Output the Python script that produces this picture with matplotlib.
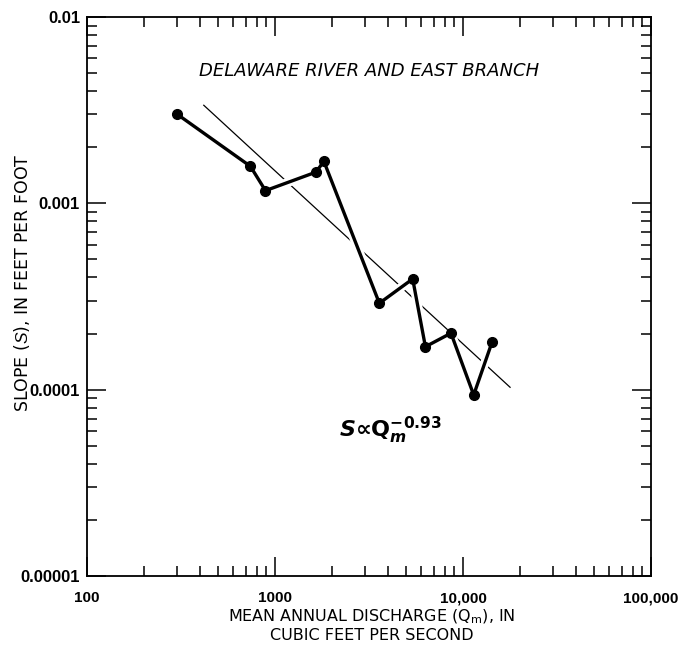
import matplotlib
matplotlib.use("Agg")
import matplotlib.pyplot as plt
from matplotlib.ticker import LogLocator, FixedLocator, FixedFormatter, NullFormatter

plt.rcParams['font.family'] = ['Liberation Sans', 'DejaVu Sans']
plt.rcParams['mathtext.fontset'] = 'custom'
plt.rcParams['mathtext.rm'] = 'Liberation Sans'
plt.rcParams['mathtext.it'] = 'Liberation Sans:italic'
plt.rcParams['mathtext.bf'] = 'Liberation Sans:bold'
plt.rcParams['mathtext.bfit'] = 'Liberation Sans:italic:bold'

# Data: mean annual discharge (cfs) and slope (ft/ft)
discharge = [300, 740, 890, 1650, 1820, 3590, 5400, 6310, 8630, 11400, 14300]
slope = [0.00302, 0.00158, 0.00117, 0.00147, 0.00168, 0.000291, 0.000393,
         0.000170, 0.000201, 0.0000937, 0.000181]

# Fitted power-law line endpoints (S ~ Q^-0.93)
fit_q = [418, 17800]
fit_s = [0.00336, 0.000103]

x_ticks = [100, 1000, 10000, 100000]
x_labels = ["100", "1000", "10,000", "100,000"]
y_ticks = [0.00001, 0.0001, 0.001, 0.01]
y_labels = ["0.00001", "0.0001", "0.001", "0.01"]

W, H = 679, 645
fig = plt.figure(figsize=(W / 100, H / 100), dpi=100)
left, right, top, bottom = 87, 651, 17, 576
ax = fig.add_axes([left / W, 1 - bottom / H, (right - left) / W, (bottom - top) / H])

ax.set_xscale('log')
ax.set_yscale('log')
ax.set_xlim(100, 100000)
ax.set_ylim(0.00001, 0.01)

# fit line (thin)
ax.plot(fit_q, fit_s, color='black', lw=0.9, zorder=2)
# white halo under the data line so the fit line is broken at crossings
ax.plot(discharge, slope, color='white', lw=6.5, solid_joinstyle='round',
        solid_capstyle='round', zorder=2.5)
# data line (thick) with dots
ax.plot(discharge, slope, color='black', lw=2.4, marker='o', ms=7,
        solid_joinstyle='round', zorder=3)

ax.xaxis.set_major_locator(FixedLocator(x_ticks))
ax.xaxis.set_major_formatter(FixedFormatter(x_labels))
ax.yaxis.set_major_locator(FixedLocator(y_ticks))
ax.yaxis.set_major_formatter(FixedFormatter(y_labels))
ax.xaxis.set_minor_locator(LogLocator(base=10, subs=range(2, 10), numticks=20))
ax.yaxis.set_minor_locator(LogLocator(base=10, subs=range(2, 10), numticks=20))
ax.xaxis.set_minor_formatter(NullFormatter())
ax.yaxis.set_minor_formatter(NullFormatter())

ax.tick_params(which='both', direction='in', top=True, right=True, width=1.1, color='black')
ax.tick_params(which='major', length=13.5)
ax.tick_params(which='minor', length=7.5)
ax.tick_params(axis='x', which='major', pad=11, labelsize=11)
ax.tick_params(axis='y', which='major', pad=5, labelsize=12)
for lab in ax.get_xticklabels() + ax.get_yticklabels():
    lab.set_fontweight('bold')
for sp in ax.spines.values():
    sp.set_linewidth(1.3)

ax.text(0.5, 0.904, "DELAWARE RIVER AND EAST BRANCH", transform=ax.transAxes,
        ha='center', va='center', fontsize=13, style='italic', family='DejaVu Sans')

ax.text(0.447, 0.26,
        r"$\mathbfit{S}\mathbf{∝}\mathbf{Q}_{\mathbfit{m}}^{\mathbf{-0.93}}$",
        transform=ax.transAxes, ha='left', va='center', fontsize=16,
        math_fontfamily='dejavusans')

fig.text(22 / W, 1 - 283 / H, r"SLOPE ($\mathit{S}$), IN FEET PER FOOT", rotation=90,
         ha='center', va='center', fontsize=12.5, family='DejaVu Sans')

fig.text(372 / W, 1 - 617 / H, r"MEAN ANNUAL DISCHARGE ($\mathregular{Q_{m}}$), IN",
         ha='center', va='center', fontsize=11.5, family='DejaVu Sans')
fig.text(372 / W, 1 - 636 / H, "CUBIC FEET PER SECOND",
         ha='center', va='center', fontsize=11.5, family='DejaVu Sans')

fig.savefig("out.png", dpi=100, facecolor='white')
